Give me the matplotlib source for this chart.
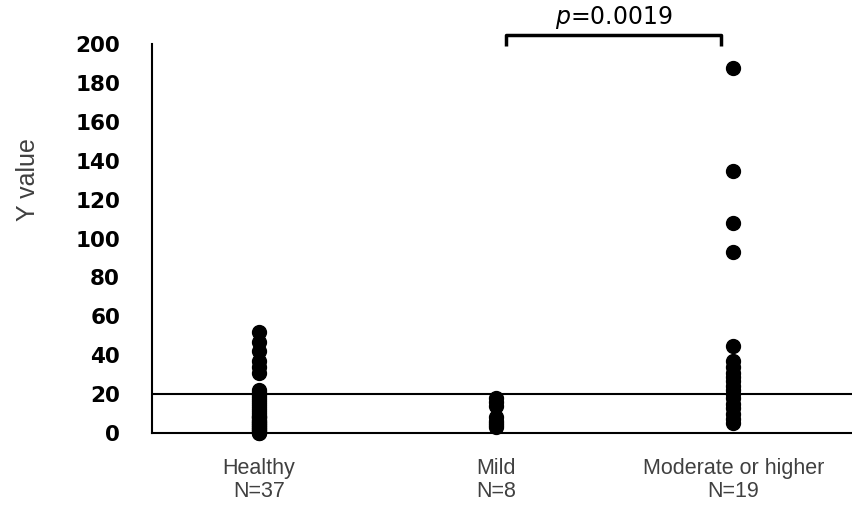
# Dot plot of Y value by severity group, with threshold line and p-value bracket
import matplotlib
matplotlib.use("Agg")
import matplotlib.pyplot as plt

groups = ["Healthy\nN=37", "Mild\nN=8", "Moderate or higher\nN=19"]

healthy = [52, 47, 42, 37, 34, 31,
           22, 21, 20, 19, 18, 17, 16, 15, 14, 13, 12, 11, 10, 9,
           8, 8, 7, 6, 6, 5, 5, 4, 4, 3, 3, 2, 2, 1, 1, 0, 0]
mild = [18, 16, 14, 8, 6, 5, 4, 3]
moderate = [188, 135, 108, 93, 45, 37, 34, 31, 29, 27, 24, 22, 20, 18, 15, 13, 10, 7, 5]

threshold = 20
p_text = "$\\it{p}$=0.0019"
yticks = list(range(0, 201, 20))

fig = plt.figure(figsize=(8.52, 5.08), dpi=100)
ax = fig.add_axes([0.1784, 0.1476, 0.8216, 0.7654])

for i, vals in enumerate([healthy, mild, moderate]):
    ax.scatter([i] * len(vals), vals, s=100, color="black", zorder=3, clip_on=False)

ax.axhline(threshold, color="black", lw=1.5, zorder=2)

ax.set_xlim(-0.45, 2.5)
ax.set_ylim(0, 200)
ax.set_yticks(yticks)
ax.set_yticklabels([str(v) for v in yticks], fontsize=15.5, fontweight="bold",
                   family="DejaVu Sans")
ax.tick_params(axis="y", length=0, pad=23)
ax.set_xticks(range(len(groups)))
ax.set_xticklabels(groups, fontsize=15.5, family="Liberation Sans", color="#404040",
                   linespacing=1.1)
ax.tick_params(axis="x", length=0, pad=18)

for s in ["top", "right"]:
    ax.spines[s].set_visible(False)
for s in ["left", "bottom"]:
    ax.spines[s].set_linewidth(1.5)
    ax.spines[s].set_color("black")

# bracket between Mild and Moderate
bx0, bx1, btop, bbot = 1.04, 1.95, 204.5, 199
ax.plot([bx0, bx0, bx1, bx1], [bbot, btop, btop, bbot], color="black", lw=2.5,
        clip_on=False, solid_capstyle="butt")
ax.text((bx0 + bx1) / 2, 207, p_text, ha="center", va="bottom", fontsize=17,
        family="DejaVu Sans")

fig.text(0.033, 0.646, "Y value", rotation=90, ha="center", va="center",
         fontsize=18, family="Liberation Sans", color="#404040")

fig.savefig("out.png", dpi=100)
